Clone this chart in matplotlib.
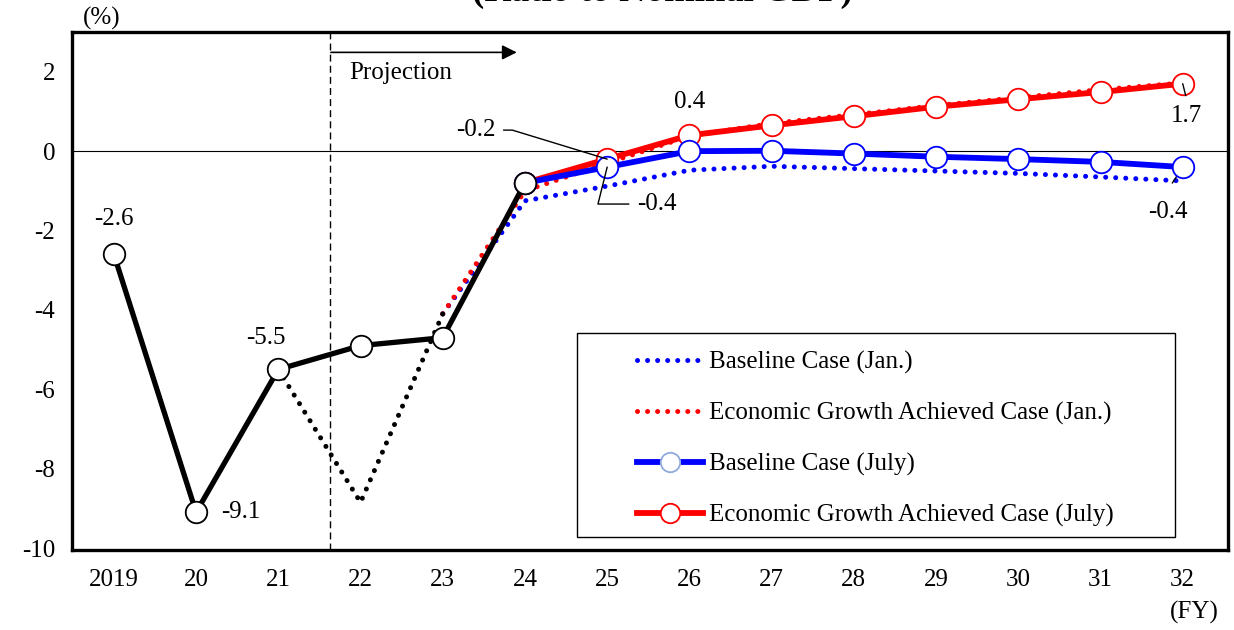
import matplotlib
matplotlib.use("Agg")
import matplotlib.pyplot as plt
from matplotlib.lines import Line2D
from matplotlib.patches import Rectangle
import numpy as np

plt.rcParams['font.family'] = ['Liberation Serif', 'DejaVu Serif']

# Fiscal years on the horizontal axis
years = ["2019", "20", "21", "22", "23", "24", "25", "26", "27", "28", "29", "30", "31", "32"]

# Results / estimates common to the July projection (FY2019-FY2024)
actual_july = [-2.6, -9.1, -5.5, -4.9, -4.7, -0.8]
# January projection path for FY2021-FY2023
actual_jan = [-5.5, -8.85, -4.1]
# January projection (FY2023-FY2032)
baseline_jan = [-4.1, -1.25, -0.88, -0.48, -0.38, -0.44, -0.5, -0.56, -0.65, -0.75]
growth_jan = [-4.1, -1.0, -0.3, 0.38, 0.7, 0.92, 1.15, 1.35, 1.55, 1.72]
# July projection (FY2024-FY2032)
baseline_july = [-0.8, -0.4, 0.0, 0.01, -0.06, -0.14, -0.2, -0.27, -0.4]
growth_july = [-0.8, -0.2, 0.4, 0.65, 0.88, 1.12, 1.31, 1.49, 1.7]

legend_labels = ["Baseline Case (Jan.)", "Economic Growth Achieved Case (Jan.)",
                 "Baseline Case (July)", "Economic Growth Achieved Case (July)"]

x = np.arange(len(years))
x_actual = x[:6]
x_jan = x[2:5]
x_proj_jan = x[4:]
x_proj_july = x[5:]

BLUE = "#0000FF"
RED = "#FF0000"
FS = 18

fig = plt.figure(figsize=(12.34, 6.3), dpi=100)
ax = fig.add_axes([0.0583, 0.127, 0.9368, 0.822])

dot = (0, (0.01, 2.0))
ax.plot(x_proj_jan, baseline_jan, color=BLUE, lw=3.6, linestyle=dot,
        dash_capstyle='round', zorder=2)
ax.plot(x_proj_jan, growth_jan, color=RED, lw=3.6, linestyle=dot,
        dash_capstyle='round', zorder=2)
ax.plot(x_jan, actual_jan, color='black', lw=3.6, linestyle=dot,
        dash_capstyle='round', zorder=2)

mk = dict(marker='o', markersize=15.5, markerfacecolor='white', markeredgewidth=1.3)
ax.plot(x_proj_july, growth_july, color=RED, lw=4.2, markeredgecolor=RED, zorder=3, **mk)
ax.plot(x_proj_july, baseline_july, color=BLUE, lw=4.2, markeredgecolor=BLUE, zorder=4, **mk)
ax.plot(x_actual, actual_july, color='black', lw=3.8, markeredgecolor='black', zorder=5, **mk)

ax.axhline(0, color='black', lw=0.8, zorder=1)

# Projection boundary and arrow
ax.axvline(2.63, color='black', lw=1.0, linestyle=(0, (5, 3)), zorder=1)
ax.annotate('', xy=(4.9, 2.49), xytext=(2.64, 2.49),
            arrowprops=dict(arrowstyle='-|>', color='black', lw=1.2,
                            mutation_scale=22, shrinkA=0, shrinkB=0))
ax.text(2.86, 1.96, "Projection", fontsize=FS, va='center', ha='left')

# Value labels
def label(xi, yi, txt, dx, dy, ha='center', va='center', line=None):
    if line is None:
        ax.annotate(txt, xy=(xi, yi), xytext=(dx, dy), textcoords='offset pixels',
                    ha=ha, va=va, fontsize=FS, zorder=6)
    else:
        ax.annotate(txt, xy=(xi, yi), xytext=(dx, dy), textcoords='offset pixels',
                    ha=ha, va=va, fontsize=FS, zorder=6,
                    arrowprops=dict(arrowstyle='-', color='black', lw=1.0,
                                    shrinkA=4, shrinkB=0, connectionstyle=line))

label(x[0], actual_july[0], "-2.6", 0, 35)
label(x[1], actual_july[1], "-9.1", 25, 0, ha='left')
label(x[2], actual_july[2], "-5.5", -12, 31)
label(x[7], growth_july[2], "0.4", 0, 33)
label(x[6], growth_july[1], "-0.2", -112, 29, ha='right',
      line="angle,angleA=0,angleB=-17,rad=0")
label(x[6], baseline_july[1], "-0.4", 30, -37, ha='left',
      line="angle,angleA=0,angleB=76,rad=0")
label(x[13], growth_july[8], "1.7", 4, -32)
ax.annotate('', xy=(x[13], growth_july[8]), xytext=(3, -12), textcoords='offset pixels',
            arrowprops=dict(arrowstyle='-', color='black', lw=1.0, shrinkA=0, shrinkB=0))
label(x[13], baseline_july[8], "-0.4", -15, -45)
ax.annotate('', xy=(x[13], baseline_july[8]), xytext=(-15, -23), textcoords='offset pixels',
            arrowprops=dict(arrowstyle='-', color='black', lw=1.0, shrinkA=6, shrinkB=0))

# Axes styling
ax.set_xlim(-0.51, 13.55)
ax.set_ylim(-10.05, 3.0)
ax.set_xticks(x)
ax.set_xticklabels(years)
ax.set_yticks([2, 0, -2, -4, -6, -8, -10])
ax.set_yticklabels(["2", "0", "-2", "-4", "-6", "-8", "-10"])
ax.tick_params(axis='both', length=0, labelsize=FS)
ax.tick_params(axis='x', pad=14)
ax.tick_params(axis='y', pad=12)
for s in ax.spines.values():
    s.set_linewidth(2.4)
    s.set_color('black')

# Legend with a square frame
ax.add_patch(Rectangle((0.4369, 0.0251), 0.5173, 0.3938, transform=ax.transAxes,
                       facecolor='white', edgecolor='black', lw=1.0, zorder=7))
handles = [
    Line2D([], [], color=BLUE, lw=3.6, linestyle=dot, dash_capstyle='round'),
    Line2D([], [], color=RED, lw=3.6, linestyle=dot, dash_capstyle='round'),
    Line2D([], [], color=BLUE, lw=4.2, marker='o', markersize=14, markerfacecolor='white',
           markeredgecolor='#8FAADC', markeredgewidth=1.3),
    Line2D([], [], color=RED, lw=4.2, marker='o', markersize=14, markerfacecolor='white',
           markeredgecolor=RED, markeredgewidth=1.3),
]
leg = ax.legend(handles, legend_labels, loc='upper left', bbox_to_anchor=(0.4888, 0.384),
                frameon=False, fontsize=FS, handlelength=2.64, handletextpad=0.24,
                labelspacing=1.11, borderpad=0, borderaxespad=0)
leg.set_zorder(8)

fig.text(0.0827, 0.9714, "(%)", fontsize=FS, ha='center', va='center')
fig.text(0.968, 0.0286, "(FY)", fontsize=FS, ha='center', va='center')
fig.text(0.537, 0.998, "(Ratio to Nominal GDP)", fontsize=26.5, fontweight='bold',
         ha='center', va='baseline')

fig.savefig("out.png", dpi=100)
